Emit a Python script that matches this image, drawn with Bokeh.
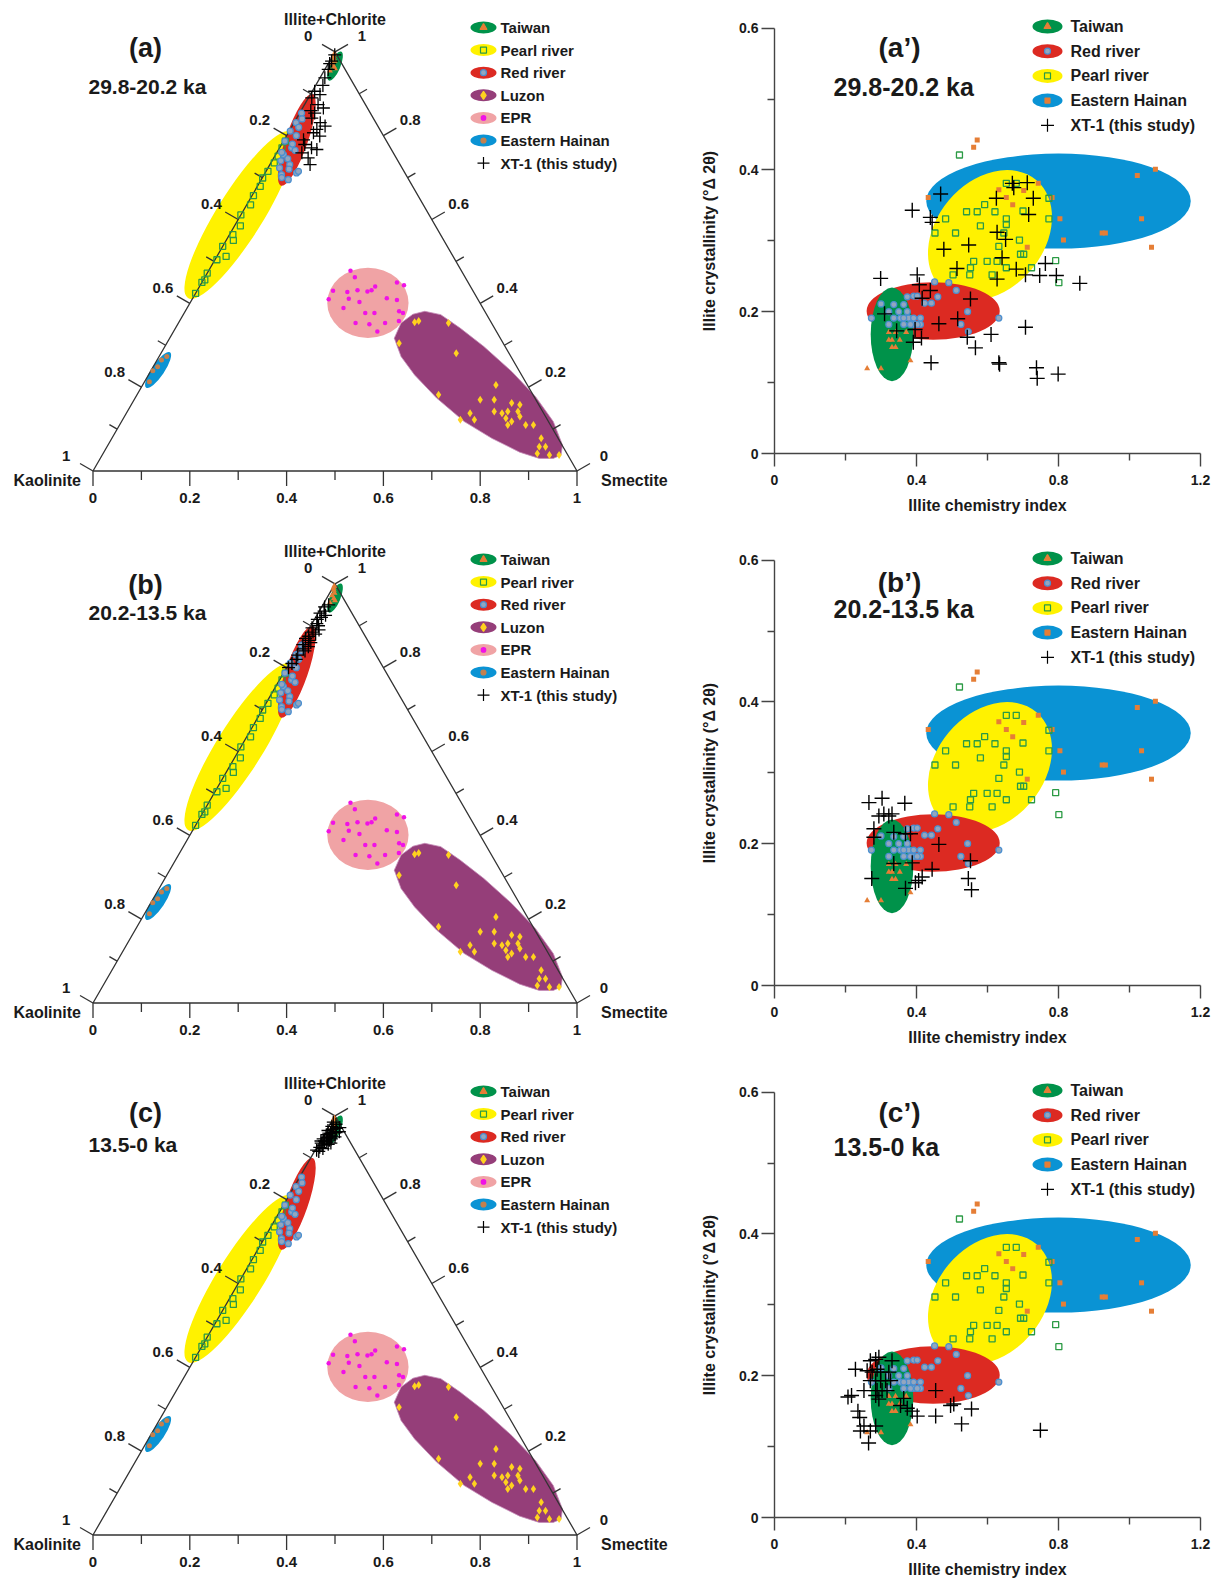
import numpy as np
from bokeh.plotting import figure
from bokeh.models import Range1d, FixedTicker, LinearAxis
from bokeh.layouts import column, row
from bokeh.core.properties import value
from bokeh.embed import file_html
from bokeh.resources import INLINE

# ---------------------------------------------------------------------------
# DATA : right-hand panels (Illite chemistry index vs Illite crystallinity)
# ---------------------------------------------------------------------------
taiwan_ici = [0.322, 0.341, 0.371, 0.322, 0.331, 0.353, 0.331, 0.341, 0.383, 0.261, 0.300]
taiwan_cry = [0.171, 0.171, 0.171, 0.160, 0.160, 0.160, 0.150, 0.150, 0.131, 0.120, 0.120]

redriver_ici = [0.451, 0.491, 0.512, 0.460, 0.442, 0.423, 0.392, 0.374, 0.402, 0.300, 0.322, 0.350,
                0.374, 0.273, 0.336, 0.355, 0.378, 0.392, 0.411, 0.322, 0.392, 0.411, 0.544, 0.632,
                0.525, 0.546, 0.364, 0.383, 0.364, 0.402, 0.336, 0.364]
redriver_cry = [0.242, 0.241, 0.230, 0.221, 0.212, 0.212, 0.222, 0.221, 0.222, 0.211, 0.200, 0.200,
                0.200, 0.191, 0.191, 0.191, 0.191, 0.191, 0.191, 0.182, 0.182, 0.182, 0.200, 0.191,
                0.182, 0.172, 0.191, 0.182, 0.182, 0.182, 0.210, 0.210]

pearl_ici = [0.521, 0.653, 0.681, 0.541, 0.571, 0.592, 0.621, 0.700, 0.773, 0.653, 0.653, 0.482,
             0.773, 0.452, 0.510, 0.580, 0.646, 0.690, 0.632, 0.561, 0.599, 0.627, 0.693, 0.702,
             0.653, 0.724, 0.552, 0.550, 0.503, 0.613, 0.792, 0.801]
pearl_cry = [0.421, 0.381, 0.381, 0.341, 0.341, 0.351, 0.341, 0.342, 0.360, 0.331, 0.323, 0.331,
             0.331, 0.311, 0.311, 0.321, 0.311, 0.301, 0.292, 0.271, 0.271, 0.271, 0.281, 0.281,
             0.262, 0.262, 0.262, 0.252, 0.252, 0.252, 0.272, 0.241]

hainan_ici = [0.571, 0.561, 1.073, 1.022, 0.433, 0.743, 0.632, 0.653, 0.671, 0.702, 0.782, 0.804,
              1.034, 0.814, 0.923, 0.932, 0.712, 1.062]
hainan_cry = [0.442, 0.432, 0.401, 0.392, 0.361, 0.381, 0.372, 0.361, 0.351, 0.371, 0.361, 0.331,
              0.331, 0.301, 0.311, 0.311, 0.291, 0.291]

# XT-1 (this study) for the three time slices
xt_a_ici = [0.468, 0.670, 0.712, 0.674, 0.625, 0.729, 0.388, 0.439, 0.444, 0.716, 0.627, 0.651,
            0.477, 0.547, 0.641, 0.514, 0.681, 0.707, 0.627, 0.747, 0.763, 0.794, 0.860, 0.299,
            0.402, 0.408, 0.439, 0.416, 0.552, 0.310, 0.463, 0.516, 0.344, 0.396, 0.414, 0.391,
            0.543, 0.610, 0.707, 0.566, 0.441, 0.632, 0.634, 0.738, 0.740, 0.799]
xt_a_cry = [0.366, 0.381, 0.382, 0.375, 0.360, 0.360, 0.343, 0.333, 0.326, 0.337, 0.312, 0.302,
            0.288, 0.294, 0.276, 0.261, 0.260, 0.252, 0.246, 0.251, 0.268, 0.251, 0.240, 0.247,
            0.252, 0.238, 0.230, 0.219, 0.218, 0.197, 0.183, 0.190, 0.173, 0.175, 0.163, 0.157,
            0.164, 0.168, 0.178, 0.149, 0.128, 0.128, 0.126, 0.121, 0.106, 0.112]

xt_b_ici = [0.266, 0.303, 0.367, 0.294, 0.308, 0.322, 0.331, 0.280, 0.336, 0.369, 0.383, 0.280,
            0.463, 0.336, 0.388, 0.444, 0.552, 0.274, 0.416, 0.406, 0.397, 0.546, 0.369, 0.555]
xt_b_cry = [0.258, 0.264, 0.257, 0.239, 0.242, 0.239, 0.242, 0.221, 0.216, 0.214, 0.214, 0.209,
            0.199, 0.172, 0.173, 0.164, 0.176, 0.151, 0.153, 0.148, 0.145, 0.151, 0.137, 0.135]

xt_c_ici = [0.228, 0.270, 0.285, 0.294, 0.331, 0.261, 0.275, 0.289, 0.299, 0.322, 0.270, 0.285,
            0.299, 0.313, 0.327, 0.252, 0.289, 0.303, 0.317, 0.207, 0.285, 0.294, 0.364, 0.454,
            0.355, 0.374, 0.388, 0.496, 0.505, 0.555, 0.402, 0.454, 0.235, 0.240, 0.527, 0.252,
            0.242, 0.270, 0.285, 0.265, 0.749, 0.217]
xt_c_cry = [0.209, 0.221, 0.223, 0.226, 0.221, 0.207, 0.205, 0.209, 0.205, 0.205, 0.193, 0.193,
            0.193, 0.193, 0.193, 0.179, 0.179, 0.179, 0.179, 0.170, 0.172, 0.167, 0.168, 0.179,
            0.158, 0.154, 0.150, 0.158, 0.160, 0.153, 0.143, 0.143, 0.150, 0.141, 0.132, 0.129,
            0.122, 0.122, 0.129, 0.105, 0.123, 0.172]

# source fields (right panels): centre x, centre y, width, height, tilt (deg)
fld_hainan = (0.800, 0.356, 0.745, 0.134, 0.0)
fld_pearl = (0.607, 0.308, 0.304, 0.203, -40.0)
fld_red = (0.447, 0.201, 0.375, 0.081, 0.0)
fld_taiwan = (0.331, 0.168, 0.120, 0.132, 0.0)

# ---------------------------------------------------------------------------
# DATA : ternary panels (fractions of Illite+Chlorite = I, Smectite = S)
# ---------------------------------------------------------------------------
t_taiwan_I = [0.985, 0.978, 0.990, 0.972, 0.995, 0.965, 0.955, 0.960]
t_taiwan_S = [0.005, 0.010, 0.002, 0.008, 0.001, 0.015, 0.012, 0.020]

t_pearl_I = [0.424, 0.456, 0.472, 0.504, 0.512, 0.536, 0.564, 0.585, 0.611, 0.635, 0.657, 0.679,
             0.699, 0.715, 0.735, 0.751, 0.771, 0.787, 0.450, 0.550]
t_pearl_S = [0.000, 0.003, 0.000, 0.004, 0.019, 0.000, 0.007, 0.012, 0.000, 0.008, 0.003, 0.006,
             0.001, 0.004, 0.007, 0.007, 0.005, 0.004, 0.000, 0.015]

t_red_I = [0.811, 0.787, 0.731, 0.707, 0.711, 0.695, 0.755, 0.854, 0.831, 0.771, 0.723, 0.715,
           0.745, 0.765, 0.700, 0.840, 0.820, 0.800, 0.780, 0.760, 0.740, 0.720]
t_red_S = [0.002, 0.003, 0.041, 0.036, 0.065, 0.056, 0.016, 0.004, 0.004, 0.025, 0.024, 0.067,
           0.030, 0.035, 0.040, 0.012, 0.015, 0.020, 0.022, 0.010, 0.018, 0.045]

t_hainan_I = [0.213, 0.239, 0.265, 0.273, 0.249]
t_hainan_S = [0.010, 0.004, 0.009, 0.016, 0.009]

t_epr_I = [0.478, 0.462, 0.430, 0.427, 0.431, 0.428, 0.431, 0.440, 0.450, 0.443, 0.410, 0.411,
           0.403, 0.412, 0.408, 0.389, 0.377, 0.377, 0.381, 0.353, 0.350, 0.353, 0.333, 0.358,
           0.377]
t_epr_S = [0.293, 0.310, 0.281, 0.312, 0.331, 0.353, 0.360, 0.363, 0.403, 0.421, 0.282, 0.323,
           0.349, 0.401, 0.424, 0.323, 0.374, 0.393, 0.442, 0.366, 0.396, 0.427, 0.421, 0.453,
           0.452]

t_luzon_I = [0.355, 0.358, 0.353, 0.305, 0.281, 0.182, 0.205, 0.170, 0.170, 0.162, 0.138, 0.142,
             0.138, 0.142, 0.142, 0.126, 0.118, 0.130, 0.122, 0.122, 0.110, 0.110, 0.110, 0.078,
             0.058, 0.058, 0.042, 0.038, 0.038, 0.158]
t_luzon_S = [0.487, 0.494, 0.558, 0.480, 0.610, 0.623, 0.730, 0.715, 0.744, 0.784, 0.710, 0.758,
             0.776, 0.786, 0.807, 0.790, 0.806, 0.817, 0.698, 0.727, 0.802, 0.839, 0.855, 0.887,
             0.893, 0.906, 0.897, 0.924, 0.944, 0.803]

# XT-1 in the ternary diagrams
t_xt_a_I = [0.978, 0.958, 0.938, 0.906, 0.898, 0.890, 0.874, 0.866, 0.854, 0.842, 0.831, 0.823,
            0.815, 0.807, 0.799, 0.779, 0.771, 0.767, 0.759, 0.747, 0.731, 0.993, 0.972, 0.920,
            0.860, 0.790]
t_xt_a_S = [0.004, 0.007, 0.010, 0.005, 0.020, 0.007, 0.028, 0.043, 0.031, 0.031, 0.054, 0.068,
            0.055, 0.052, 0.069, 0.048, 0.066, 0.079, 0.052, 0.071, 0.083, 0.003, 0.003, 0.015,
            0.020, 0.040]
t_xt_b_I = [0.945, 0.935, 0.930, 0.920, 0.915, 0.905, 0.900, 0.895, 0.885, 0.880, 0.875, 0.865,
            0.860, 0.855, 0.845, 0.840, 0.830, 0.820, 0.810, 0.800, 0.950, 0.925, 0.890, 0.870,
            0.850]
t_xt_b_S = [0.006, 0.010, 0.004, 0.012, 0.006, 0.010, 0.016, 0.005, 0.012, 0.020, 0.008, 0.014,
            0.020, 0.006, 0.012, 0.018, 0.008, 0.010, 0.006, 0.004, 0.012, 0.018, 0.022, 0.004,
            0.020]
t_xt_c_I = [0.985, 0.980, 0.975, 0.970, 0.968, 0.965, 0.960, 0.958, 0.955, 0.952, 0.950, 0.948,
            0.945, 0.942, 0.940, 0.938, 0.935, 0.932, 0.930, 0.925, 0.922, 0.918, 0.915, 0.972,
            0.962, 0.945, 0.935, 0.960, 0.950, 0.940]
t_xt_c_S = [0.004, 0.012, 0.006, 0.018, 0.010, 0.003, 0.022, 0.012, 0.006, 0.016, 0.025, 0.010,
            0.003, 0.018, 0.008, 0.014, 0.004, 0.020, 0.010, 0.006, 0.014, 0.003, 0.009, 0.024,
            0.028, 0.020, 0.024, 0.015, 0.013, 0.001]

# Luzon field outline (I, S)
luzon_out_I = [0.317, 0.353, 0.374, 0.381, 0.373, 0.341, 0.297, 0.237, 0.178, 0.118, 0.062, 0.038,
               0.030, 0.030, 0.045, 0.078, 0.118, 0.174, 0.229, 0.273]
luzon_out_S = [0.464, 0.460, 0.474, 0.495, 0.532, 0.588, 0.659, 0.747, 0.825, 0.892, 0.939, 0.948,
               0.936, 0.907, 0.859, 0.785, 0.708, 0.623, 0.550, 0.500]

# ternary fields: centre I, centre S, length, width (triangle side = 1), tilt (deg)
tf_pearl = (0.611, -0.002, 0.405, 0.095, 58.0)
tf_red = (0.790, 0.026, 0.200, 0.046, 71.0)
tf_taiwan = (0.966, 0.017, 0.065, 0.022, 67.0)
tf_hainan = (0.241, 0.014, 0.088, 0.026, 56.0)
tf_epr = (0.401, 0.3675, 0.168, 0.145, 0.0)

# ---------------------------------------------------------------------------
# STYLE
# ---------------------------------------------------------------------------
FONT = "Liberation Sans"
TXT = "#1a1a1a"
GREEN = "#00924A"
YELLOW = "#FFF200"
RED = "#DC2A22"
BLUE = "#0A93D4"
PURPLE = "#953E79"
PINK = "#F0A3A5"
ORANGE = "#E57E36"
SKY = "#4A8FD0"
SKYFILL = "#93A6BF"
MAGENTA = "#F012E6"
GOLD = "#FFD21F"
SQGREEN = "#2C9B45"
AXIS = "#444444"

LEFT_W = 680
RIGHT_W = 1218 - LEFT_W

H3 = np.sqrt(3) / 2
PXT = 484.0             # pixels per unit side in ternary panels
TLX, TBY = 92.5, 470.5  # canvas pixel of the Kaolinite vertex


def tern(I, S):
    I = np.asarray(I, float)
    S = np.asarray(S, float)
    return S + I / 2.0, I * H3


def tpx(px, py):
    return (px - TLX) / PXT, (TBY - py) / PXT


def txt(p, x, y, s, size, align="center", style="bold", baseline="middle"):
    p.text(x=[x], y=[y], text=[s], text_font=value(FONT), text_font_size=f"{size}px",
           text_font_style=style, text_align=align, text_baseline=baseline, text_color=TXT)


def tern_field(p, f, color):
    cI, cS, ln, wd, ang = f
    cx, cy = tern(cI, cS)
    p.ellipse(x=[float(cx)], y=[float(cy)], width=[ln], height=[wd], angle=[np.radians(ang)],
              fill_color=color, line_color=None)


def base_fig(w, h, xr, yr):
    p = figure(width=w, height=h, x_range=Range1d(*xr), y_range=Range1d(*yr),
               output_backend="svg", toolbar_location=None, min_border=0,
               x_axis_location=None, y_axis_location=None)
    p.grid.grid_line_color = None
    p.outline_line_color = None
    p.background_fill_color = "white"
    p.border_fill_color = "white"
    return p


def make_ternary(H, xI, xS, letter, age, ly, ay):
    p = base_fig(LEFT_W, H, (-TLX / PXT, (LEFT_W - TLX) / PXT), ((TBY - H) / PXT, TBY / PXT))

    # fields
    lx, lyy = tern(luzon_out_I, luzon_out_S)
    p.patch(lx, lyy, fill_color=PURPLE, line_color="#C58CB8", line_width=0.8)
    tern_field(p, tf_epr, PINK)
    tern_field(p, tf_hainan, BLUE)
    tern_field(p, tf_pearl, YELLOW)
    tern_field(p, tf_red, RED)
    tern_field(p, tf_taiwan, GREEN)

    # triangle
    ex, ey = tern([0, 0, 1, 0], [0, 1, 0, 0])
    p.line(ex, ey, line_color="#333333", line_width=1.3)

    # ticks + labels
    x0s, y0s, x1s, y1s = [], [], [], []
    for k in range(11):
        v = k / 10.0
        major = (k % 2 == 0)
        ln = (15 if major else 9) / PXT
        lab = f"{v:g}"
        bx, by = tern(0, v)
        x0s.append(float(bx)); y0s.append(float(by)); x1s.append(float(bx)); y1s.append(float(by) - ln)
        lx0, ly0 = tern(1 - v, 0)
        x0s.append(float(lx0)); y0s.append(float(ly0))
        x1s.append(float(lx0) - H3 * ln); y1s.append(float(ly0) + 0.5 * ln)
        rx0, ry0 = tern(v, 1 - v)
        x0s.append(float(rx0)); y0s.append(float(ry0))
        x1s.append(float(rx0) + H3 * ln); y1s.append(float(ry0) + 0.5 * ln)
        if major:
            d = 31 / PXT
            txt(p, float(bx), float(by) - 27 / PXT, lab, 15)
            txt(p, float(lx0) - H3 * d, float(ly0) + 0.5 * d, lab, 15)
            txt(p, float(rx0) + H3 * d, float(ry0) + 0.5 * d, lab, 15)
    p.segment(x0s, y0s, x1s, y1s, line_color="#333333", line_width=1.3)

    ax_, ay_ = tern(1, 0)
    txt(p, float(ax_), float(ay_) + 32 / PXT, "Illite+Chlorite", 16)
    txt(p, -12 / PXT, -9 / PXT, "Kaolinite", 16, align="right")
    txt(p, 1 + 24 / PXT, -9 / PXT, "Smectite", 16, align="left")

    # points
    x, y = tern(t_epr_I, t_epr_S)
    p.scatter(x, y, marker="circle", size=4.5, fill_color=MAGENTA, line_color=None)
    x, y = tern(t_luzon_I, t_luzon_S)
    p.scatter(x, y, marker="diamond", size=8, fill_color=GOLD, line_color=None)
    x, y = tern(t_hainan_I, t_hainan_S)
    p.scatter(x, y, marker="circle", size=5, fill_color="#C4804E", line_color=None)
    x, y = tern(t_pearl_I, t_pearl_S)
    p.scatter(x, y, marker="square", size=6, fill_alpha=0, line_color=SQGREEN, line_width=1.3)
    x, y = tern(t_red_I, t_red_S)
    p.scatter(x, y, marker="circle", size=6, fill_color=SKYFILL, line_color=SKY, line_width=1.2)
    x, y = tern(t_taiwan_I, t_taiwan_S)
    p.scatter(x, y, marker="triangle", size=6, fill_color=ORANGE, line_color=None)
    x, y = tern(xI, xS)
    p.scatter(x, y, marker="cross", size=13, line_color="black", line_width=1.3)

    # titles
    lxp, lyp = tpx(145, ly)
    txt(p, lxp, lyp, letter, 27)
    axp, ayp = tpx(88, ay)
    txt(p, axp, ayp, age, 21, align="left")

    # legend
    items = [("Taiwan", GREEN, "triangle", ORANGE, ORANGE, 7),
             ("Pearl river", YELLOW, "square", None, SQGREEN, 6),
             ("Red river", RED, "circle", SKYFILL, SKY, 6),
             ("Luzon", PURPLE, "diamond", GOLD, GOLD, 8),
             ("EPR", PINK, "circle", MAGENTA, MAGENTA, 4.5),
             ("Eastern Hainan", BLUE, "circle", "#C4804E", "#C4804E", 5),
             ("XT-1 (this study)", None, "cross", None, "black", 12)]
    for i, (nm, ec, mk, mf, ml, ms) in enumerate(items):
        py = 27 + 22.6 * i
        sx, sy = tpx(483, py)
        if ec is not None:
            p.ellipse(x=[sx], y=[sy], width=[26 / PXT], height=[12 / PXT], fill_color=ec, line_color=None)
        p.scatter([sx], [sy], marker=mk, size=ms, fill_color=mf, fill_alpha=0 if mf is None else 1,
                  line_color=ml, line_width=1.2)
        tx, ty = tpx(500, py)
        txt(p, tx, ty, nm, 15, align="left")
    return p


# ---------------------------------------------------------------------------
# right-hand scatter panels
# ---------------------------------------------------------------------------
XS = 355.0     # px per unit of illite chemistry index
YS = 709.0     # px per unit of crystallinity
AXX = 774.0    # page x of the y axis
FB = 453.0     # px from panel top of the x axis


def spx(px_page, py):
    return (px_page - AXX) / XS, (FB - py) / YS


def sfield(p, f, color):
    cx, cy, w, h, a = f
    p.ellipse(x=[cx], y=[cy], width=[w], height=[h], angle=[np.radians(a)], fill_color=color,
              line_color=None)


def make_scatter(H, xi, xc, letter, age, ly, ay):
    x0 = -(AXX - LEFT_W) / XS
    p = base_fig(RIGHT_W, H, (x0, x0 + RIGHT_W / XS), (-(H - FB) / YS, FB / YS))

    xax = LinearAxis(fixed_location=0, bounds=(0, 1.2),
                     ticker=FixedTicker(ticks=[0, 0.4, 0.8, 1.2], minor_ticks=[0.2, 0.6, 1.0]),
                     axis_label="Illite chemistry index")
    yax = LinearAxis(fixed_location=0, bounds=(0, 0.6),
                     ticker=FixedTicker(ticks=[0, 0.2, 0.4, 0.6], minor_ticks=[0.1, 0.3, 0.5]),
                     axis_label="Illite crystallinity (°Δ 2θ)")
    xax.major_label_overrides = {0: "0", 0.4: "0.4", 0.8: "0.8", 1.2: "1.2"}
    yax.major_label_overrides = {0: "0", 0.2: "0.2", 0.4: "0.4", 0.6: "0.6"}
    for ax in (xax, yax):
        ax.axis_line_color = AXIS
        ax.axis_line_width = 1.4
        ax.major_tick_line_color = AXIS
        ax.major_tick_line_width = 1.4
        ax.minor_tick_line_color = AXIS
        ax.minor_tick_line_width = 1.4
        ax.major_tick_out = 13
        ax.major_tick_in = 0
        ax.minor_tick_out = 7
        ax.minor_tick_in = 0
        ax.major_label_text_font = FONT
        ax.major_label_text_font_style = "bold"
        ax.major_label_text_font_size = "14px"
        ax.major_label_text_color = TXT
        ax.axis_label_text_font = FONT
        ax.axis_label_text_font_style = "bold"
        ax.axis_label_text_font_size = "16px"
        ax.axis_label_text_color = TXT
    xax.major_label_standoff = 8
    xax.axis_label_standoff = 9
    yax.major_label_standoff = 3
    yax.axis_label_standoff = 18

    sfield(p, fld_hainan, BLUE)
    sfield(p, fld_pearl, YELLOW)
    sfield(p, fld_red, RED)
    sfield(p, fld_taiwan, GREEN)

    p.scatter(hainan_ici, hainan_cry, marker="square", size=5, fill_color=ORANGE, line_color=None)
    p.scatter(pearl_ici, pearl_cry, marker="square", size=6, fill_alpha=0, line_color=SQGREEN,
              line_width=1.3)
    p.scatter(redriver_ici, redriver_cry, marker="circle", size=6, fill_color=SKYFILL,
              line_color=SKY, line_width=1.2)
    p.scatter(taiwan_ici, taiwan_cry, marker="triangle", size=6, fill_color=ORANGE, line_color=None)
    p.scatter(xi, xc, marker="cross", size=15, line_color="black", line_width=1.4)

    p.add_layout(xax, "below")
    p.add_layout(yax, "left")

    lxp, lyp = spx(899, ly)
    txt(p, lxp, lyp, letter, 28)
    axp, ayp = spx(833, ay)
    txt(p, axp, ayp, age, 25, align="left")

    items = [("Taiwan", GREEN, "triangle", ORANGE, ORANGE, 7),
             ("Red river", RED, "circle", SKYFILL, SKY, 6),
             ("Pearl river", YELLOW, "square", None, SQGREEN, 6),
             ("Eastern Hainan", BLUE, "square", ORANGE, ORANGE, 5),
             ("XT-1 (this study)", None, "cross", None, "black", 13)]
    for i, (nm, ec, mk, mf, ml, ms) in enumerate(items):
        py = 26 + 24.7 * i
        sx, sy = spx(1047, py)
        if ec is not None:
            p.ellipse(x=[sx], y=[sy], width=[30 / XS], height=[14 / YS], fill_color=ec, line_color=None)
        p.scatter([sx], [sy], marker=mk, size=ms, fill_color=mf, fill_alpha=0 if mf is None else 1,
                  line_color=ml, line_width=1.2)
        tx, ty = spx(1070, py)
        txt(p, tx, ty, nm, 16, align="left")
    return p


t1 = make_ternary(532, t_xt_a_I, t_xt_a_S, "(a)", "29.8-20.2 ka", 47, 86)
t2 = make_ternary(532, t_xt_b_I, t_xt_b_S, "(b)", "20.2-13.5 ka", 52, 80)
t3 = make_ternary(514, t_xt_c_I, t_xt_c_S, "(c)", "13.5-0 ka", 48, 80)
s1 = make_scatter(532, xt_a_ici, xt_a_cry, "(a’)", "29.8-20.2 ka", 47, 86)
s2 = make_scatter(532, xt_b_ici, xt_b_cry, "(b’)", "20.2-13.5 ka", 50, 76)
s3 = make_scatter(514, xt_c_ici, xt_c_cry, "(c’)", "13.5-0 ka", 48, 82)

layout = column(row(t1, s1), row(t2, s2), row(t3, s3))
open("out.html", "w").write(file_html(layout, INLINE))
